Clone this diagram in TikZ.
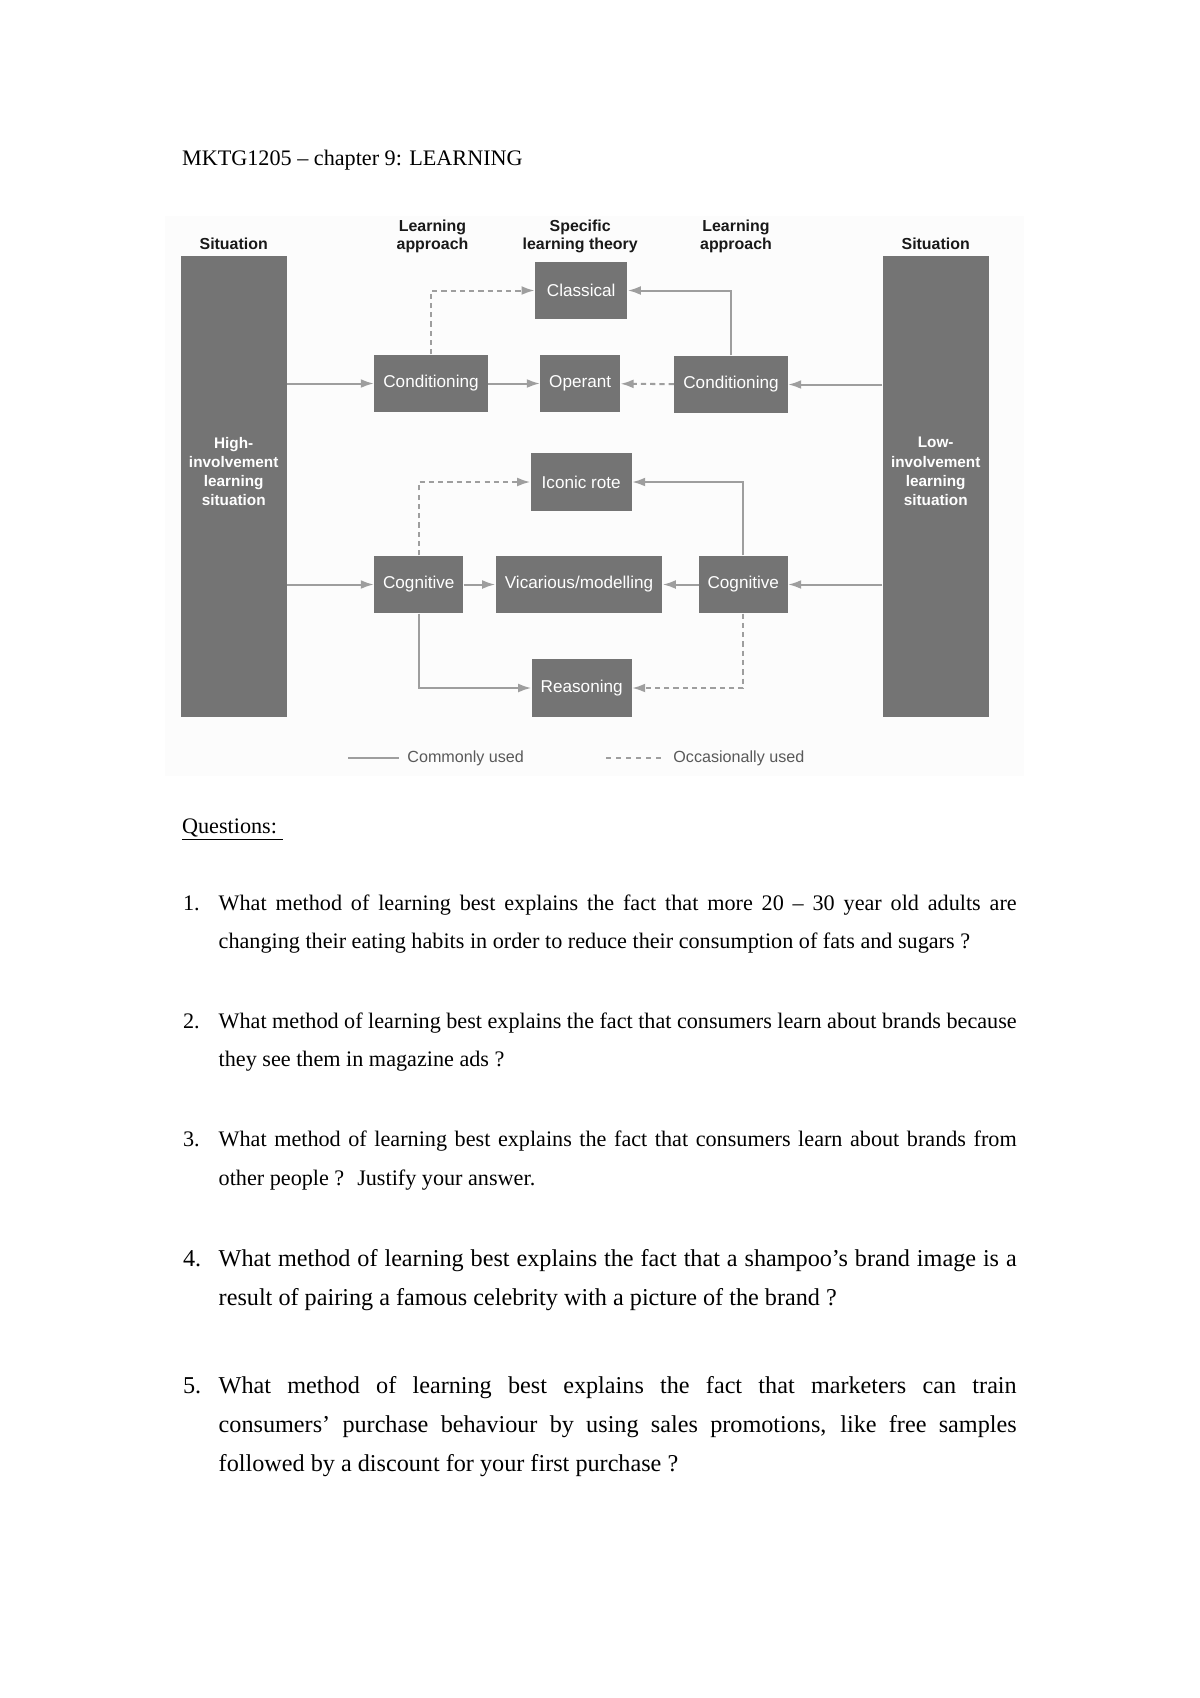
\documentclass[tikz,border=0pt]{standalone}
\usepackage{fontspec}
\setmainfont{Liberation Serif}
\setsansfont{Liberation Sans}
\usetikzlibrary{arrows.meta}
\hyphenpenalty=10000
\exhyphenpenalty=10000
\newcommand{\pxu}{0.496pt}
\definecolor{boxgrey}{HTML}{747474}
\definecolor{arrowgrey}{HTML}{9E9E9E}
\definecolor{faintgrey}{HTML}{FCFCFC}
\tikzset{
    x=\pxu, y=-\pxu, % one unit is one pixel, counted from the top left
    >={Latex[length=6.5pt,width=4.4pt]}, % small filled arrow heads
    common/.style={->, draw=arrowgrey, line width=1pt}, % commonly used link
    occasional/.style={common, dash pattern=on 2.6pt off 2pt}, % occasionally used link
    theory/.style={fill=boxgrey, text=white, inner sep=0pt, minimum width=#1*\pxu, minimum height=57.4*\pxu, font=\sffamily\fontsize{8.5}{10}\selectfont}, % grey box, width in pixels
    situation/.style={fill=boxgrey, inner sep=0pt, minimum width=106.3*\pxu, minimum height=460.7*\pxu}, % tall side box
    sitlabel/.style={text=white, align=center, inner sep=0pt, font=\sffamily\bfseries\fontsize{7.6}{9.5}\selectfont},
    header/.style={align=center, anchor=south, inner sep=0pt, text depth=0pt, text=black!90, font=\sffamily\bfseries\fontsize{7.9}{8.6}\selectfont},
    legend/.style={anchor=west, inner sep=0pt, text=black!65, font=\sffamily\fontsize{8}{10}\selectfont},
    plain/.style={anchor=base west, inner sep=0pt, font=\fontsize{11}{13}\selectfont},
    question/.style={anchor=base west, inner sep=0pt, text width=798*\pxu, align=justify, font=\fontsize{11}{19}\selectfont},
    bigquestion/.style={question, font=\fontsize{12}{19.4}\selectfont},
}

\begin{document}
\begin{tikzpicture}
\useasboundingbox (0,0) rectangle (1200,1698);
\fill[white] (0,0) rectangle (1200,1698);
\fill[faintgrey] (165,216) rectangle (1024,776);

\node[plain] (title) at (181.7,165) {MKTG1205 – chapter 9: LEARNING};

% column headers
\node[header] (hsitL) at (233.7,249.5) {Situation};
\node[header] (happL) at (432.5,249.5) {Learning\\approach};
\node[header] (htheory) at (580.2,249.5) {Specific\\learning theory};
\node[header] (happR) at (736,249.5) {Learning\\approach};
\node[header] (hsitR) at (935.7,249.5) {Situation};

% situations
\node[situation] (high) at (233.7,486.3) {};
\node[situation] (low) at (935.7,486.3) {};
\node[sitlabel] (highlab) at (233.7,471.5) {High-\\involvement\\learning\\situation};
\node[sitlabel] (lowlab) at (935.7,471.5) {Low-\\involvement\\learning\\situation};

% approaches and theories
\node[theory=92.3] (classical) at (581.2,290.5) {Classical};
\node[theory=113.4] (condL) at (431,383.5) {Conditioning};
\node[theory=79.7] (operant) at (580.2,383.5) {Operant};
\node[theory=113.4] (condR) at (731,384.5) {Conditioning};
\node[theory=101] (iconic) at (581.2,482) {Iconic rote};
\node[theory=89] (cogL) at (418.8,584.5) {Cognitive};
\node[theory=166.6] (vicarious) at (579,584.5) {Vicarious/modelling};
\node[theory=88.7] (cogR) at (743.3,584.5) {Cognitive};
\node[theory=100] (reasoning) at (581.7,688) {Reasoning};

% links
\draw[common] (high.east |- condL) -- (condL);
\draw[common] (condL) -- (operant);
\draw[occasional] (condL) |- (classical);
\draw[common] (low.west |- condR) -- (condR);
\draw[occasional] (condR) -- (operant);
\draw[common] (condR) |- (classical);
\draw[common] (high.east |- cogL) -- (cogL);
\draw[common] (cogL) -- (vicarious);
\draw[occasional] (cogL) |- (iconic);
\draw[common] (cogL) |- (reasoning);
\draw[common] (low.west |- cogR) -- (cogR);
\draw[common] (cogR) -- (vicarious);
\draw[common] (cogR) |- (iconic);
\draw[occasional] (cogR) |- (reasoning);

% legend
\node[legend] (lcommon) at (407,758.3) {Commonly used};
\node[legend] (loccas) at (673,758.3) {Occasionally used};
\coordinate (lc) at (348.3,758.3);
\coordinate (lo) at (606,758.3);
\draw[draw=arrowgrey, line width=1pt] (lc) -- ([xshift=-4pt]lcommon.west);
\draw[draw=arrowgrey, line width=1pt, dash pattern=on 2.5pt off 2.5pt] (lo) -- ([xshift=-5pt]loccas.west);

% questions
\node[plain] (qhead) at (181.7,833.3) {\underline{Questions:~}};
\node[plain] (n1) at (182.7,910) {1.};
\node[question] (q1) at (218.3,910) {What method of learning best explains the fact that more 20 – 30 year old adults are\linebreak changing their eating habits in order to reduce their consumption of fats and sugars ?};
\node[plain] (n2) at (182.7,1028.3) {2.};
\node[question] (q2) at (218.3,1028.3) {What method of learning best explains the fact that consumers learn about brands because\linebreak they see them in magazine ads ?};
\node[plain] (n3) at (182.7,1146.7) {3.};
\node[question] (q3) at (218.3,1146.7) {What method of learning best explains the fact that consumers learn about brands from\linebreak other people ? \ Justify your answer.};
\node[plain, font=\fontsize{12}{14}\selectfont] (n4) at (182.7,1266) {4.};
\node[bigquestion] (q4) at (218.3,1266) {What method of learning best explains the fact that a shampoo’s brand image is a\linebreak result of pairing a famous celebrity with a picture of the brand ?};
\node[plain, font=\fontsize{12}{14}\selectfont] (n5) at (182.7,1393.3) {5.};
\node[bigquestion] (q5) at (218.3,1393.3) {What method of learning best explains the fact that marketers can train\linebreak consumers’ purchase behaviour by using sales promotions, like free samples\linebreak followed by a discount for your first purchase ?};
\end{tikzpicture}
\end{document}
